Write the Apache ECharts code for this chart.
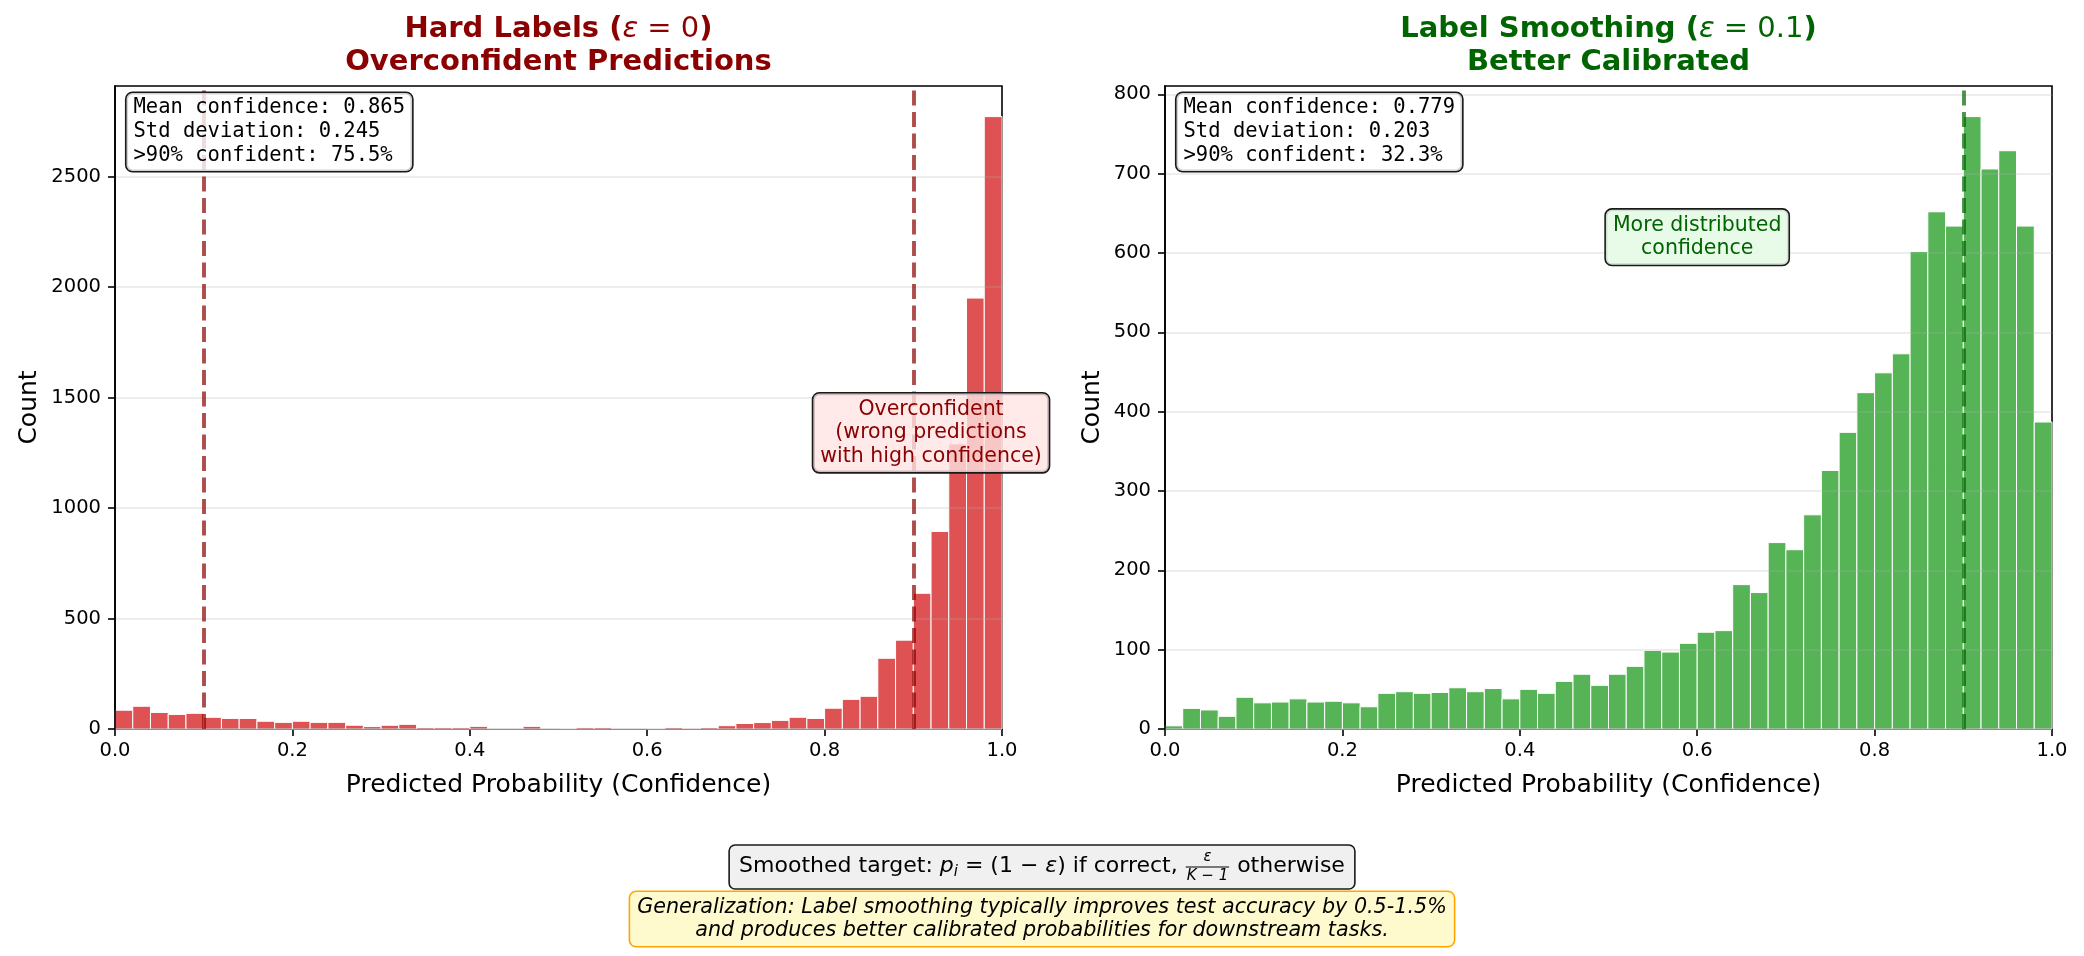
<!DOCTYPE html>
<html>
<head>
<meta charset="utf-8">
<script src="https://cdn.jsdelivr.net/npm/echarts@6/dist/echarts.min.js"></script>
<style>
    html, body { margin: 0; padding: 0; background: #fff; }
    #chart { width: 2084px; height: 956px; }
</style>
</head>
<body>
<div id="chart"></div>
<script>
// histogram data, 50 bins of width 0.02 over [0, 1]
const binWidth = 0.02;
const hardCounts = [85, 103, 75, 66, 71, 53, 48, 48, 35, 30,
    35, 30, 30, 17, 11, 17, 21, 7, 7, 7,
    12, 3, 3, 12, 3, 2, 7, 7, 3, 3,
    2, 7, 3, 7, 15, 25, 29, 39, 53, 48,
    94, 134, 148, 320, 402, 614, 894, 1290, 1950, 2771];
const smoothCounts = [4, 26, 24, 16, 40, 33, 34, 38, 34, 35,
    33, 28, 45, 47, 45, 46, 52, 47, 51, 38,
    50, 45, 60, 69, 55, 69, 79, 99, 97, 108,
    122, 124, 182, 172, 235, 226, 270, 326, 374, 424,
    449, 473, 602, 652, 634, 772, 706, 729, 634, 387];

const hardTicks = [0, 500, 1000, 1500, 2000, 2500];
const smoothTicks = [0, 100, 200, 300, 400, 500, 600, 700, 800];
const xTicks = [0, 0.2, 0.4, 0.6, 0.8, 1.0];

const hardLines = [0.1, 0.9];
const smoothLines = [0.9];

const hardStats = ["Mean confidence: 0.865", "Std deviation: 0.245", ">90% confident: 75.5%"];
const smoothStats = ["Mean confidence: 0.779", "Std deviation: 0.203", ">90% confident: 32.3%"];

const hardNote = {coord: [0.92, 1340], text: "Overconfident\n(wrong predictions\nwith high confidence)"};
const smoothNote = {coord: [0.6, 620], text: "More distributed\nconfidence"};

const FONT = "'DejaVu Sans', sans-serif";
const MONO = "'DejaVu Sans Mono', monospace";
const DARKRED = "#8b0000";
const DARKGREEN = "#006400";

const grids = [
    {left: 115, top: 86, width: 887, height: 643},
    {left: 1165, top: 86, width: 887, height: 643}
];

const chart = echarts.init(document.getElementById("chart"));

function binData(counts) {
    return counts.map((c, i) => [i * binWidth, (i + 1) * binWidth, c]);
}

function histRender(color) {
    return function (params, api) {
        const p0 = api.coord([api.value(0), api.value(2)]);
        const p1 = api.coord([api.value(1), 0]);
        return {
            type: "rect",
            shape: {x: p0[0], y: p0[1], width: p1[0] - p0[0], height: p1[1] - p0[1]},
            style: {fill: color, stroke: "#fff", lineWidth: 1}
        };
    };
}

function xAxisOf(i) {
    return {
        type: "value", gridIndex: i, min: 0, max: 1, interval: 0.2,
        name: "Predicted Probability (Confidence)",
        nameLocation: "middle", nameGap: 44,
        nameTextStyle: {fontSize: 25, color: "#000", fontFamily: FONT},
        axisLine: {show: true, lineStyle: {color: "#000", width: 1.6}},
        axisTick: {show: true, length: 7, lineStyle: {color: "#000", width: 1.6}, customValues: xTicks},
        axisLabel: {fontSize: 19.5, color: "#000", fontFamily: FONT, margin: 12,
            customValues: xTicks, formatter: v => v.toFixed(1)},
        splitLine: {show: false}
    };
}

function yAxisOf(i, counts, ticks, gap) {
    const step = ticks[1] - ticks[0];
    return {
        type: "value", gridIndex: i, min: 0, max: Math.max(...counts) * 1.05, interval: step,
        z: 3,
        name: "Count", nameLocation: "middle", nameGap: gap,
        nameTextStyle: {fontSize: 25, color: "#000", fontFamily: FONT},
        axisLine: {show: true, lineStyle: {color: "#000", width: 1.6}},
        axisTick: {show: true, length: 7, lineStyle: {color: "#000", width: 1.6}, customValues: ticks},
        axisLabel: {fontSize: 19.5, color: "#000", fontFamily: FONT, margin: 14,
            customValues: ticks, formatter: v => (v % step === 0 ? String(v) : "")},
        splitLine: {show: true, lineStyle: {color: "rgba(176,176,176,0.3)", width: 1.6}}
    };
}

function markerSeries(i, lines, lineColor, note, noteColor, noteBg) {
    return {
        type: "line", xAxisIndex: i, yAxisIndex: i, data: [], z: 4,
        markLine: {
            silent: true, symbol: ["none", "none"], animation: false,
            label: {show: false},
            lineStyle: {color: lineColor, width: 3.9, type: [15, 6.5]},
            data: lines.map(v => ({xAxis: v}))
        },
        markPoint: {
            silent: true, animation: false,
            data: [{
                coord: note.coord, symbol: "circle", symbolSize: 0,
                label: {
                    show: true, position: "inside", formatter: note.text,
                    color: noteColor, fontSize: 20.5, lineHeight: 23.5, fontFamily: FONT, align: "center",
                    backgroundColor: noteBg, borderColor: "#1a1a1a", borderWidth: 1.6, borderRadius: 6,
                    padding: [4, 7]
                }
            }]
        }
    };
}

// math-like bottom line: pieces laid out left to right
const measureCtx = document.createElement("canvas").getContext("2d");
function textWidth(text, size, style) {
    measureCtx.font = (style || "normal") + " " + size + "px " + FONT;
    return measureCtx.measureText(text).width;
}

function formulaGraphic(cx, cy) {
    const parts = [
        {t: "Smoothed target: ", size: 22},
        {t: "p", size: 22, style: "italic"},
        {t: "i", size: 15, style: "italic", dy: 6},
        {t: " = (1 \u2212 ", size: 22},
        {t: "\u03b5", size: 22, style: "italic"},
        {t: ") if correct, ", size: 22},
        {frac: true, num: "\u03b5", den: "K \u2212 1"},
        {t: " otherwise", size: 22}
    ];
    let total = 0;
    parts.forEach(p => {
        p.w = p.frac ? Math.max(textWidth(p.num, 15, "italic"), textWidth(p.den, 15, "italic")) + 4
            : textWidth(p.t, p.size, p.style);
        total += p.w;
    });
    const els = [{
        type: "rect", z: 10,
        shape: {x: cx - total / 2 - 10, y: cy - 21, width: total + 20, height: 44, r: 6},
        style: {fill: "#f0f0f0", stroke: "#1a1a1a", lineWidth: 1.6}
    }];
    let x = cx - total / 2;
    parts.forEach(p => {
        if (p.frac) {
            const mid = x + p.w / 2;
            els.push({type: "text", z: 11, x: mid, y: cy - 1,
                style: {text: p.num, fontSize: 15, fontStyle: "italic", fontFamily: FONT, fill: "#000",
                    align: "center", verticalAlign: "bottom"}});
            els.push({type: "line", z: 11, shape: {x1: x + 1, y1: cy + 1, x2: x + p.w - 1, y2: cy + 1},
                style: {stroke: "#000", lineWidth: 1}});
            els.push({type: "text", z: 11, x: mid, y: cy + 3,
                style: {text: p.den, fontSize: 15, fontStyle: "italic", fontFamily: FONT, fill: "#000",
                    align: "center", verticalAlign: "top"}});
        } else {
            els.push({type: "text", z: 11, x: x, y: cy + (p.dy || 0),
                style: {text: p.t, fontSize: p.size, fontStyle: p.style || "normal", fontFamily: FONT,
                    fill: "#000", align: "left", verticalAlign: "middle"}});
        }
        x += p.w;
    });
    return els;
}

function statsBox(g, lines) {
    return {
        type: "text", z: 10, x: g.left + 0.013 * g.width, y: g.top + 7,
        style: {
            text: lines.join("\n"), fontSize: 20.5, fontFamily: MONO, fill: "#000", lineHeight: 24,
            align: "left", verticalAlign: "top",
            backgroundColor: "rgba(255,255,255,0.8)", borderColor: "#1a1a1a", borderWidth: 1.6,
            borderRadius: 6, padding: [3, 7]
        }
    };
}

function titleText(cx, rich1, line2, color) {
    return {
        type: "text", z: 10, x: cx, y: 13,
        style: {
            text: rich1 + "\n{b|" + line2 + "}",
            align: "center", verticalAlign: "top",
            rich: {
                b: {fontSize: 29, fontWeight: "bold", fontFamily: FONT, fill: color, lineHeight: 33},
                e: {fontSize: 29, fontStyle: "italic", fontFamily: FONT, fill: color, lineHeight: 33},
                n: {fontSize: 29, fontFamily: FONT, fill: color, lineHeight: 33}
            }
        }
    };
}

const graphics = [
    titleText(grids[0].left + grids[0].width / 2,
        "{b|Hard Labels (}{e|\u03b5}{n| = 0}{b|)}", "Overconfident Predictions", DARKRED),
    titleText(grids[1].left + grids[1].width / 2,
        "{b|Label Smoothing (}{e|\u03b5}{n| = 0.1}{b|)}", "Better Calibrated", DARKGREEN),
    statsBox(grids[0], hardStats),
    statsBox(grids[1], smoothStats),
    ...formulaGraphic(1042, 866),
    {
        type: "text", z: 10, x: 1042, y: 919,
        style: {
            text: "Generalization: Label smoothing typically improves test accuracy by 0.5-1.5%\nand produces better calibrated probabilities for downstream tasks.",
            fontSize: 20.7, fontStyle: "italic", fontFamily: FONT, fill: "#000", lineHeight: 23,
            align: "center", verticalAlign: "middle",
            backgroundColor: "#fffacd", borderColor: "#ffa500", borderWidth: 1.6, borderRadius: 6,
            padding: [4, 7]
        }
    }
];

chart.setOption({
    animation: false,
    backgroundColor: "#fff",
    textStyle: {fontFamily: FONT},
    grid: grids.map(g => Object.assign({
        containLabel: false, show: true, backgroundColor: "transparent",
        borderColor: "#000", borderWidth: 1.6
    }, g)),
    xAxis: [xAxisOf(0), xAxisOf(1)],
    yAxis: [yAxisOf(0, hardCounts, hardTicks, 73), yAxisOf(1, smoothCounts, smoothTicks, 60)],
    series: [
        {
            type: "custom", xAxisIndex: 0, yAxisIndex: 0, renderItem: histRender("rgba(214,39,40,0.8)"),
            encode: {x: [0, 1], y: 2}, data: binData(hardCounts)
        },
        {
            type: "custom", xAxisIndex: 1, yAxisIndex: 1, renderItem: histRender("rgba(44,160,44,0.8)"),
            encode: {x: [0, 1], y: 2}, data: binData(smoothCounts)
        },
        markerSeries(0, hardLines, "rgba(139,0,0,0.7)", hardNote, DARKRED, "rgba(255,228,228,0.8)"),
        markerSeries(1, smoothLines, "rgba(0,100,0,0.7)", smoothNote, DARKGREEN, "rgba(230,250,230,0.9)")
    ],
    graphic: graphics
});
</script>
</body>
</html>
